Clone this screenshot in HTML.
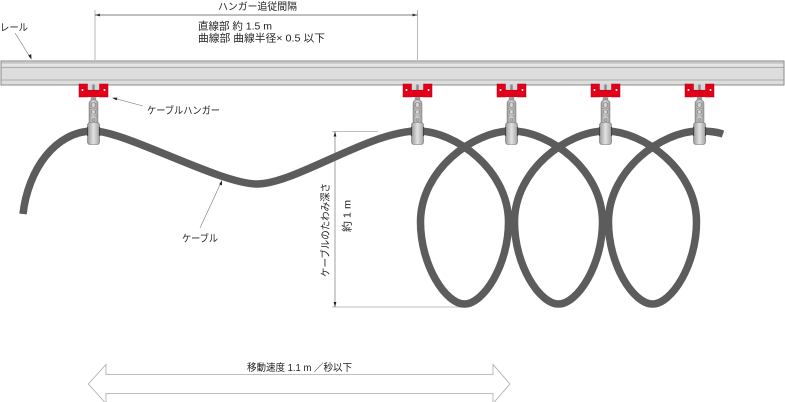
<!DOCTYPE html>
<html>
<head>
<meta charset="utf-8">
<style>
  html,body{margin:0;padding:0;background:#fff;}
  svg{display:block;}
  text{font-family:"Liberation Sans","Noto Sans CJK JP",sans-serif;fill:#222;}
</style>
</head>
<body>
<svg width="785" height="402" viewBox="0 0 785 402" xmlns="http://www.w3.org/2000/svg">
  <defs>
    <linearGradient id="rod" x1="0" x2="1" y1="0" y2="0">
      <stop offset="0" stop-color="#8e8e8e"/>
      <stop offset="0.45" stop-color="#dedede"/>
      <stop offset="1" stop-color="#989898"/>
    </linearGradient>
    <linearGradient id="clamp" x1="0" x2="1" y1="0" y2="0">
      <stop offset="0" stop-color="#9a9a9a"/>
      <stop offset="0.5" stop-color="#e2e2e2"/>
      <stop offset="1" stop-color="#a2a2a2"/>
    </linearGradient>
    <g id="hanger">
      <rect x="-6" y="84" width="12" height="7" fill="#d6d6d6"/>
      <rect x="-1.2" y="84.5" width="2.4" height="6" fill="#8a8a8a"/>
      <rect x="-14.5" y="84" width="8.5" height="13" fill="#e3001b" stroke="#b0000f" stroke-width="0.5"/>
      <rect x="6" y="84" width="8.5" height="13" fill="#e3001b" stroke="#b0000f" stroke-width="0.5"/>
      <rect x="-10" y="90" width="20" height="7" fill="#e3001b"/>
      <line x1="-10" y1="90.2" x2="10" y2="90.2" stroke="#b0000f" stroke-width="0.5"/>
      <circle cx="-11" cy="90" r="1" fill="#fff"/>
      <circle cx="11" cy="90" r="1" fill="#fff"/>
      <rect x="-2.7" y="97" width="5.4" height="3.5" fill="#9c9c9c"/>
      <rect x="-4.5" y="100" width="9" height="44" rx="3" fill="url(#rod)" stroke="#7e7e7e" stroke-width="0.5"/>
      <circle cx="0" cy="105" r="2.4" fill="none" stroke="#777" stroke-width="0.6"/>
      <line x1="-4.5" y1="108.5" x2="4.5" y2="108.5" stroke="#888" stroke-width="0.5"/>
      <circle cx="0" cy="112" r="2.2" fill="none" stroke="#777" stroke-width="0.6"/>
      <line x1="-4.5" y1="116" x2="4.5" y2="116" stroke="#888" stroke-width="0.5"/>
      <circle cx="0" cy="120" r="1.6" fill="#bbb" stroke="#666" stroke-width="0.5"/>
      <rect x="-6" y="122.5" width="12" height="22" rx="2.5" fill="url(#clamp)" stroke="#6e6e6e" stroke-width="0.6"/>
      <line x1="-6" y1="127" x2="-6" y2="136" stroke="#444" stroke-width="1.2"/>
      <line x1="6" y1="127" x2="6" y2="136" stroke="#444" stroke-width="1.2"/>
    </g>
  </defs>

  <!-- top dimension -->
  <line x1="95" y1="10" x2="95" y2="60" stroke="#9a9a9a" stroke-width="0.7"/>
  <line x1="417.5" y1="10" x2="417.5" y2="60" stroke="#9a9a9a" stroke-width="0.7"/>
  <line x1="95" y1="15" x2="417.5" y2="15" stroke="#555" stroke-width="0.7"/>
  <polygon points="95,15 100,13.6 100,16.4" fill="#333"/>
  <polygon points="417.5,15 412.5,13.6 412.5,16.4" fill="#333"/>
  <text x="218" y="10" font-size="10" textLength="79" lengthAdjust="spacingAndGlyphs">ハンガー追従間隔</text>
  <text x="198" y="29.5" font-size="10.5" textLength="74" lengthAdjust="spacingAndGlyphs">直線部 約 1.5 m</text>
  <text x="198" y="41.5" font-size="10.5" textLength="127" lengthAdjust="spacingAndGlyphs">曲線部 曲線半径× 0.5 以下</text>

  <!-- rail label -->
  <text x="0" y="31" font-size="10" textLength="28" lengthAdjust="spacingAndGlyphs">レール</text>
  <line x1="15" y1="33" x2="30" y2="57" stroke="#777" stroke-width="0.6"/>
  <polygon points="31.5,59.5 28.2,55.6 31.2,54" fill="#222"/>

  <!-- rail -->
  <rect x="1" y="61" width="783" height="24" fill="#dcdddc" stroke="#8a8a8a" stroke-width="1"/>
  <rect x="1.5" y="63" width="782" height="4" fill="#e4e5e4"/>
  <line x1="1" y1="63" x2="784" y2="63" stroke="#a6a6a6" stroke-width="0.8"/>
  <line x1="1" y1="67.3" x2="784" y2="67.3" stroke="#9e9e9e" stroke-width="0.8"/>
  <line x1="1" y1="80" x2="784" y2="80" stroke="#9e9e9e" stroke-width="0.8"/>

  <!-- vertical dimension -->
  <line x1="332" y1="131.5" x2="378" y2="131.5" stroke="#aaa" stroke-width="0.7"/>
  <line x1="332" y1="307" x2="463" y2="307" stroke="#aaa" stroke-width="0.7"/>
  <line x1="335" y1="131.5" x2="335" y2="307" stroke="#777" stroke-width="0.7"/>
  <polygon points="335,131.5 333.6,136.5 336.4,136.5" fill="#222"/>
  <polygon points="335,307 333.6,302 336.4,302" fill="#222"/>
  <text transform="translate(326.5,230) rotate(-90)" text-anchor="middle" dominant-baseline="central" font-size="10" textLength="94" lengthAdjust="spacingAndGlyphs">ケーブルのたわみ深さ</text>
  <text transform="translate(347.5,216) rotate(-90)" text-anchor="middle" dominant-baseline="central" font-size="10.5" textLength="32" lengthAdjust="spacingAndGlyphs">約 1 m</text>

  <!-- cable -->
  <path d="M23,214 C28,170 55,131 93.5,131 C125,131 220,184 257,184 C295,184 370,131 417.5,131
           C455.5,131 508.5,170 508.5,222 C508.5,265 483.5,304 464.5,304 C445.5,304 420.5,265 420.5,222 C420.5,170 473.5,131 511.5,131
           C549.5,131 602.5,170 602.5,222 C602.5,265 577.5,304 558.5,304 C539.5,304 514.5,265 514.5,222 C514.5,170 567.5,131 605.5,131
           C643.5,131 696.5,170 696.5,222 C696.5,265 671.5,304 652.5,304 C633.5,304 608.5,265 608.5,222 C608.5,170 661.5,131 699.5,131
           C710,131 717,132 723,134"
        fill="none" stroke="#5c5c5c" stroke-width="7.5" stroke-linecap="butt" stroke-linejoin="round"/>

  <!-- hangers -->
  <use href="#hanger" transform="translate(93.5,0)"/>
  <use href="#hanger" transform="translate(417.5,0)"/>
  <use href="#hanger" transform="translate(511.5,0)"/>
  <use href="#hanger" transform="translate(605.5,0)"/>
  <use href="#hanger" transform="translate(699.5,0)"/>

  <!-- cable hanger label -->
  <line x1="143" y1="106" x2="115" y2="98.5" stroke="#777" stroke-width="0.6"/>
  <polygon points="112,97.7 117.4,97.6 116.6,100.4" fill="#222"/>
  <text x="147" y="114" font-size="10" textLength="73" lengthAdjust="spacingAndGlyphs">ケーブルハンガー</text>

  <!-- cable label -->
  <line x1="200" y1="228" x2="220.8" y2="183" stroke="#777" stroke-width="0.6"/>
  <polygon points="222,180.3 221.9,185.5 219.2,184.3" fill="#222"/>
  <text x="182" y="242" font-size="10" textLength="36" lengthAdjust="spacingAndGlyphs">ケーブル</text>

  <!-- movement arrow -->
  <polygon points="88.3,384 106,364.5 106,374.5 493,374.5 493,364.5 510,384 493,403.5 493,393.5 106,393.5 106,403.5"
           fill="#fff" stroke="#aaa" stroke-width="0.8"/>
  <text x="247" y="371" font-size="10" textLength="105" lengthAdjust="spacingAndGlyphs">移動速度 1.1 m ／秒以下</text>
</svg>
</body>
</html>
